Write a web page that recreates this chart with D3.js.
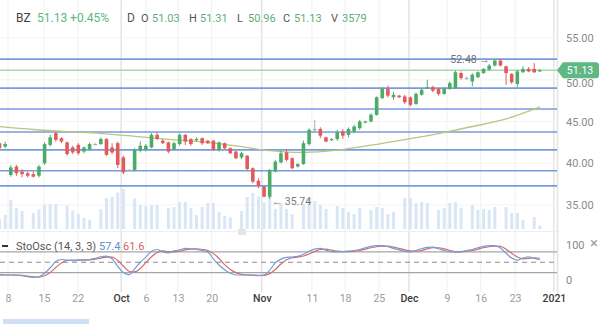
<!DOCTYPE html>
<html><head><meta charset="utf-8">
<script src="https://cdn.jsdelivr.net/npm/d3@7"></script>
<style>
body{margin:0;background:#fff;}
svg{display:block;font-family:Roboto,"Noto Sans",sans-serif;}
</style>
</head><body>
<svg id="c" width="600" height="324"></svg>
<script>
// ---- DATA (daily bars) ----
const openP  = [42.4,42.0,38.6,39.6,39.0,38.8,38.7,38.5,40.0,42.2,43.6,43.0,42.5,41.9,42.2,41.4,41.7,42.3,42.3,42.9,
                41.9,42.4,40.7,39.2,39.2,41.5,41.6,41.9,43.4,42.7,42.5,41.7,42.3,43.4,42.9,42.8,43.0,42.7,42.7,41.6,
                42.4,41.8,41.4,40.7,40.9,39.4,37.9,37.2,36.0,39.0,40.1,41.3,40.6,39.6,39.9,42.3,44.1,44.1,43.1,42.8,
                42.9,43.8,43.4,43.8,44.2,44.9,45.0,45.8,47.8,48.9,47.9,48.1,48.0,47.9,47.1,48.2,49.0,49.1,48.9,48.3,
                48.9,49.0,50.8,50.2,49.8,50.3,50.8,51.2,51.7,52.3,51.6,50.7,49.5,50.9,51.3,51.3,51.03];
const highP  = [42.6,42.6,39.8,39.8,39.3,39.0,39.0,39.8,42.5,43.4,43.8,43.1,42.6,42.1,42.4,42.0,42.5,42.4,43.1,43.0,
                42.4,42.6,40.9,39.3,41.8,42.6,42.3,43.6,43.7,42.9,42.6,42.6,43.6,43.5,43.0,43.1,43.1,42.8,42.8,42.6,
                42.5,41.9,41.5,41.4,41.0,39.5,38.2,37.3,39.3,40.4,41.5,41.6,40.7,40.0,42.7,44.2,45.2,44.3,43.2,43.0,
                44.0,44.1,44.3,44.6,45.2,45.1,46.0,48.0,49.1,49.3,48.5,48.2,48.2,48.0,48.5,49.0,50.0,49.3,49.0,49.1,
                49.8,51.1,51.0,50.4,50.8,51.0,51.4,51.9,52.48,52.4,51.7,50.8,51.2,51.6,51.5,52.0,51.31];
const lowP   = [41.6,41.8,38.4,38.5,38.3,38.3,38.3,38.3,39.8,42.0,42.6,42.4,40.9,41.1,41.0,41.2,41.5,42.2,42.2,40.9,
                41.1,39.4,38.7,39.1,39.0,41.3,41.4,41.8,42.8,42.3,41.2,41.5,42.1,42.2,42.1,42.6,42.2,42.3,41.5,41.4,
                41.7,41.1,40.5,40.5,39.2,37.6,37.0,35.9,35.74,38.9,40.0,40.2,39.3,39.5,39.8,42.1,43.6,43.0,42.5,42.7,
                42.7,42.9,43.1,43.6,44.0,44.8,44.9,45.7,47.7,47.9,47.6,47.8,47.1,46.8,47.0,48.1,48.9,48.5,48.1,48.2,
                48.8,48.9,50.0,50.1,49.2,50.2,50.7,51.1,51.6,51.6,49.4,49.5,49.1,50.8,50.9,50.8,50.96];
const closeP = [41.8,42.3,39.5,38.8,38.7,38.5,38.4,39.6,42.3,43.1,42.8,42.6,41.1,41.3,41.2,41.9,42.3,42.3,42.9,41.0,
                41.3,39.8,38.9,39.2,41.6,42.1,42.1,43.4,42.9,42.4,41.4,42.4,43.4,42.6,42.3,42.9,42.4,42.4,41.6,42.5,
                41.8,41.2,40.6,41.2,39.3,37.8,37.3,36.0,39.2,40.2,41.2,40.4,39.4,39.9,42.4,44.0,44.1,43.3,42.6,42.9,
                43.7,43.3,44.1,44.4,45.0,45.0,45.8,47.9,48.9,48.1,48.2,47.9,47.3,47.0,48.3,48.8,49.1,48.7,48.3,48.9,
                49.6,50.9,50.2,50.2,50.6,50.9,51.3,51.7,52.3,51.7,50.8,49.7,51.0,51.3,51.0,50.9,51.13];
const volumeK = [10,14,29,21,18,0,16,19.5,24.5,25,25,0,23.5,18.5,15,11,9,0,20,31,
                 32,36.5,40,0,30.5,24,23,24,24,0,21,22,27,27,21,14,22,26,26,17,
                 13,11.5,0,18,32,36,32.5,26.5,40,20,26,20,15,0,25,30,28,24,20,0,
                 23,21,17,15,21,0,19,22,21,15,17,0,31,31,26,27,26,0,19,21,
                 26,27,21,0,24,19,20,19,22,0,22,16,16,9,0,12,3.6];
const lastVolume = 3579;
// moving average, read at weekly bars
const maIdx = [0,6,12,18,24,30,36,42,48,54,60,66,72,78,84,90,96];
const maVal = [44.38,44.04,43.78,43.56,43.23,42.87,42.57,42.09,41.51,41.29,41.56,42.16,42.84,43.56,44.40,45.30,46.74];
// stochastic oscillator (14,3,3)
const stochK = [13,13,13,12,11,8,6,8,18,34,52,58,56,55,56,57,58,61,66,68,
                60,38,20,14,31,50,65,82,87,80,77,83,86,90,89,87,84,80,60,42,
                28,18,13,13,13,12,11,13,27,48,59,64,65,67,73,82,88,90,85,81,
                80,81,82,84,87,92,96,98,98,95,90,86,82,80,84,89,93,94,89,84,
                80,80,81,84,87,92,96,98,98,91,76,62,56,62,66,61,57.4];
const stochD = [14,13,13,13,12,10,8,7,11,20,35,48,55,56,56,56,57,59,62,65,
                65,55,39,24,22,32,49,66,78,83,81,80,82,86,88,89,87,84,75,61,
                43,29,20,15,13,13,12,12,17,29,45,57,63,65,68,74,81,87,88,85,
                82,81,81,82,84,88,92,95,97,97,94,90,86,83,82,84,89,92,92,89,
                84,81,80,82,84,88,92,95,97,96,88,76,65,60,61,63,61.6];
// horizontal drawn levels
const levels = [52.48,49.0,46.5,43.74,41.6,39.1,37.3];
const priceTicks = [35,40,45,50,55];
const tickLabels = ["8","15","22","Oct","6","13","20","Nov","11","18","25","Dec","9","16","23","2021"];
const tickPos    = [1.5,7.9,13.9,21.6,26.0,31.7,37.7,46.6,55.5,61.4,67.4,72.75,79.5,85.5,91.6,98.5];
const majorLabels = ["Oct","Nov","Dec","2021"];
const lastPrice = 51.13, changePct = "+0.45%", symbol = "BZ";
const hiIdx = 88, loIdx = 48;

// ---- DRAW ----
const svg = d3.select('#c');
const W = 557;
const x  = d3.scaleLinear().domain([0.08, 99.05]).range([0, W]);
const y  = d3.scaleLinear().domain([35, 55]).range([205, 38]);
const yv = d3.scaleLinear().domain([0, 50]).range([229, 179]);
const ys = d3.scaleLinear().domain([0, 100]).range([279.5, 245]);
const idx = d3.range(openP.length);

const defs = svg.append('defs');
defs.append('clipPath').attr('id','cm').append('rect').attr('x',0).attr('y',0).attr('width',W).attr('height',231);
defs.append('clipPath').attr('id','cs').append('rect').attr('x',0).attr('y',236).attr('width',W).attr('height',54);

// vertical gridlines
svg.append('g').selectAll('line').data(tickPos).join('line')
  .attr('x1',d=>x(d)).attr('x2',d=>x(d)).attr('y1',0).attr('y2',292)
  .attr('stroke',(d,i)=>majorLabels.includes(tickLabels[i])?'#d6d6d6':'#f0f0f0')
  .attr('stroke-width',1);
// horizontal faint grid
svg.append('g').selectAll('line').data(priceTicks).join('line')
  .attr('x1',0).attr('x2',W).attr('y1',d=>y(d)).attr('y2',d=>y(d))
  .attr('stroke','#f3f3f3');
// panel separators and right border
svg.append('line').attr('x1',0).attr('x2',W).attr('y1',231.5).attr('y2',231.5).attr('stroke','#eeeeee');
svg.append('line').attr('x1',W+0.5).attr('x2',W+0.5).attr('y1',0).attr('y2',295).attr('stroke','#e3e3e3').attr('stroke-width',1.5);
svg.append('rect').attr('x',238).attr('y',229).attr('width',8).attr('height',6).attr('fill','#e4e4e4');

const main = svg.append('g').attr('clip-path','url(#cm)');
// volume
main.append('g').selectAll('rect').data(idx.filter(i=>volumeK[i]>0)).join('rect')
  .attr('x',i=>x(i)-1.5).attr('width',3)
  .attr('y',i=>yv(volumeK[i])).attr('height',i=>yv(0)-yv(volumeK[i]))
  .attr('fill','#d9e6f5');
// levels
main.append('g').selectAll('line').data(levels).join('line')
  .attr('x1',0).attr('x2',W).attr('y1',d=>y(d)).attr('y2',d=>y(d))
  .attr('stroke','#6b90dc').attr('stroke-width',1.7).attr('opacity',0.9);
// last price line
main.append('line').attr('x1',0).attr('x2',W).attr('y1',y(lastPrice)).attr('y2',y(lastPrice))
  .attr('stroke','#a9d8b3').attr('stroke-width',1.5);
// moving average
main.append('path').datum(maIdx)
  .attr('d', d3.line().x(i=>x(i)).y((i,k)=>y(maVal[k])).curve(d3.curveMonotoneX))
  .attr('fill','none').attr('stroke','#b9c77e').attr('stroke-width',1.3);
// candles
const colorOf = i => closeP[i]>openP[i] ? '#4dab68' : (closeP[i]<openP[i] ? '#e25b5b' : '#aaaaaa');
const cg = main.append('g');
cg.selectAll('line').data(idx).join('line')
  .attr('x1',i=>x(i)).attr('x2',i=>x(i)).attr('y1',i=>y(highP[i])).attr('y2',i=>y(lowP[i]))
  .attr('stroke',colorOf).attr('stroke-width',1);
cg.selectAll('rect').data(idx).join('rect')
  .attr('x',i=>x(i)-1.8).attr('width',3.6)
  .attr('y',i=>y(Math.max(openP[i],closeP[i])))
  .attr('height',i=>Math.max(1.2, Math.abs(y(openP[i])-y(closeP[i]))))
  .attr('fill',colorOf);
// annotations
svg.append('text').attr('x',x(hiIdx)-5).attr('y',y(highP[hiIdx])+4)
  .attr('text-anchor','end').attr('font-size',10.5).attr('fill','#6f6f6f')
  .text(d3.format('.2f')(highP[hiIdx])+' \u2192');
svg.append('text').attr('x',x(loIdx)+2).attr('y',y(lowP[loIdx])+6.5)
  .attr('text-anchor','start').attr('font-size',10.5).attr('fill','#7a7a7a')
  .text('\u2190 '+d3.format('.2f')(lowP[loIdx]));

// right price axis
const ax = svg.append('g').attr('transform','translate(564,0)')
  .call(d3.axisRight(y).tickValues(priceTicks).tickSize(0).tickFormat(d3.format('.2f')));
ax.select('.domain').remove();
ax.selectAll('text').attr('font-size',11).attr('fill','#8a8a8a').attr('font-family','Roboto,sans-serif').attr('x',2)
  .attr('dy',d=>d===50?'0.62em':'0.32em');

// price tag
const ty = y(lastPrice);
svg.append('path')
  .attr('d',`M557,${ty} L563,${ty-8} L596,${ty-8} Q599,${ty-8} 599,${ty-5} L599,${ty+5} Q599,${ty+8} 596,${ty+8} L563,${ty+8} Z`)
  .attr('fill','#5db884');
svg.append('text').attr('x',580).attr('y',ty+3.5).attr('text-anchor','middle')
  .attr('font-size',10.5).attr('fill','#fff').text(d3.format('.2f')(lastPrice));

// header
const h = svg.append('text').attr('y',22).attr('font-size',12);
h.append('tspan').attr('x',16).attr('fill','#444').text(symbol);
h.append('tspan').attr('x',37).attr('fill','#5cb87c').text(d3.format('.2f')(lastPrice)+' '+changePct);
const h2 = svg.append('text').attr('y',22).attr('font-size',11);
h2.append('tspan').attr('x',127).attr('fill','#555').attr('font-size',12).text('D');
const n = openP.length-1;
const hdr = [['O',openP[n],141],['H',highP[n],189],['L',lowP[n],237],['C',closeP[n],283]];
hdr.forEach(([k,v,px])=>{
  h2.append('tspan').attr('x',px).attr('fill','#555').text(k);
  h2.append('tspan').attr('x',px+11).attr('fill','#5fae7a').text(d3.format('.2f')(v));
});
h2.append('tspan').attr('x',331).attr('fill','#555').text('V');
h2.append('tspan').attr('x',342).attr('fill','#5fae7a').text(lastVolume);

// stochastic panel
const st = svg.append('g');
[80,20].forEach(v=>st.append('line').attr('x1',0).attr('x2',W).attr('y1',ys(v)).attr('y2',ys(v))
   .attr('stroke','#a6a6a6').attr('stroke-width',1.2));
st.append('line').attr('x1',0).attr('x2',W).attr('y1',ys(50)).attr('y2',ys(50))
   .attr('stroke','#8c8c8c').attr('stroke-width',1.2).attr('stroke-dasharray','5,4');
const sc = st.append('g').attr('clip-path','url(#cs)');
sc.append('path').datum(idx).attr('d',d3.line().x(i=>x(i)).y(i=>ys(stochD[i])).curve(d3.curveMonotoneX))
  .attr('fill','none').attr('stroke','#d46a6a').attr('stroke-width',1.2);
sc.append('path').datum(idx).attr('d',d3.line().x(i=>x(i)).y(i=>ys(stochK[i])).curve(d3.curveMonotoneX))
  .attr('fill','none').attr('stroke','#6e9fd9').attr('stroke-width',1.2);
st.append('line').attr('x1',2).attr('x2',8).attr('y1',246).attr('y2',246).attr('stroke','#333').attr('stroke-width',2);
const sl = st.append('text').attr('y',250).attr('font-size',11);
sl.append('tspan').attr('x',16).attr('fill','#555').text('StoOsc (14, 3, 3)');
sl.append('tspan').attr('x',99).attr('fill','#5b8fd6').text(stochK[n]);
sl.append('tspan').attr('x',123).attr('fill','#d46060').text(stochD[n]);
const sax = st.append('g').attr('transform','translate(564,0)')
  .call(d3.axisRight(ys).tickValues([0,100]).tickSize(0));
sax.select('.domain').remove();
sax.selectAll('text').attr('font-size',11).attr('fill','#8a8a8a').attr('font-family','Roboto,sans-serif').attr('x',2);
st.append('text').attr('x',590).attr('y',248).attr('font-size',15).attr('fill','#a0a0a0').text('\u00d7');

// bottom axis
const bx = svg.append('g').attr('transform','translate(0,291)')
  .call(d3.axisBottom(x).tickValues(tickPos).tickSize(0).tickFormat((d,i)=>tickLabels[i]));
bx.select('.domain').remove();
bx.selectAll('text').attr('font-size',10.5).attr('font-family','Roboto,sans-serif').attr('dy','0.71em').attr('y',4)
  .attr('fill',(d,i)=>majorLabels.includes(tickLabels[i])?'#3c3c3c':'#9a9a9a')
  .attr('font-weight',(d,i)=>majorLabels.includes(tickLabels[i])?500:400);

// scrollbar
svg.append('rect').attr('x',3).attr('y',319).attr('width',86).attr('height',5).attr('fill','#cfe0f6');
</script>
</body></html>
